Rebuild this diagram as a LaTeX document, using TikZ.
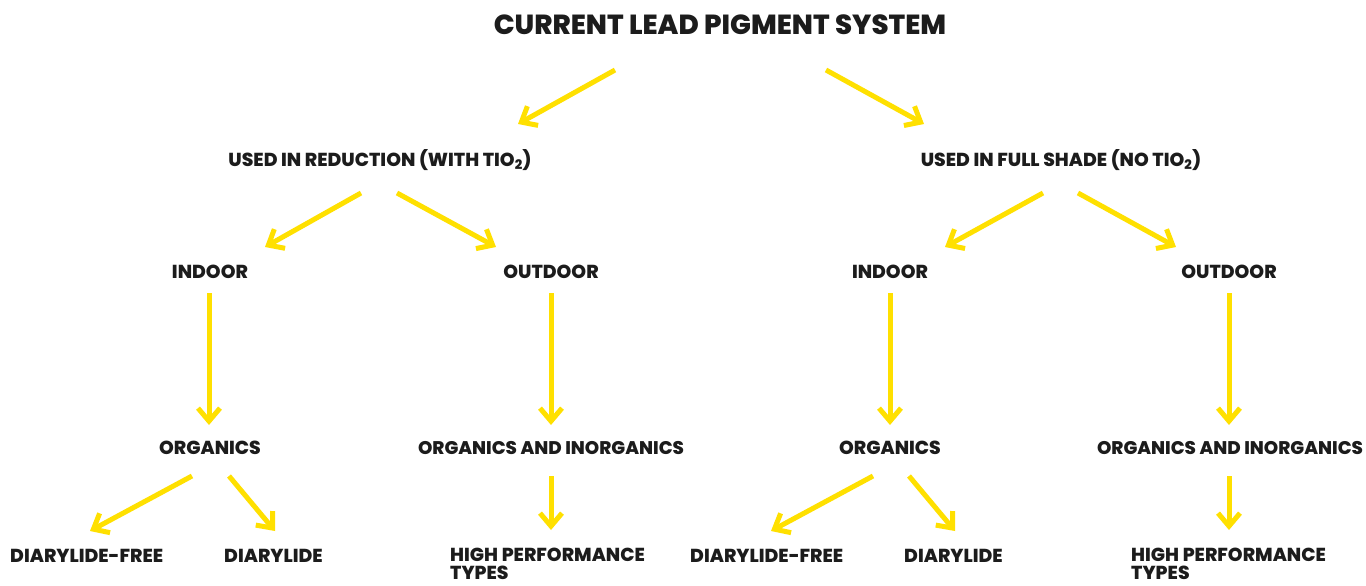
\documentclass[tikz,border=0pt]{standalone}
\usepackage{fontspec}
\setmainfont{Poppins}[BoldFont={Poppins ExtraBold}]
\usetikzlibrary{arrows.meta}
\definecolor{arrowyellow}{HTML}{FFE000}
\definecolor{inkdark}{HTML}{1C1C1C}
\begin{document}
\begin{tikzpicture}[x=1pt,y=-1pt,
  lbl/.style={font=\fontsize{18.8}{23}\selectfont\bfseries, text=inkdark, inner sep=0pt, anchor=base},
  ttl/.style={font=\fontsize{27.6}{31}\selectfont\bfseries, text=inkdark, inner sep=0pt, anchor=base},
  arr/.style={draw=arrowyellow, line width=5pt, -{Straight Barb[length=13pt,width=22pt]}}]
\useasboundingbox (0,0) rectangle (1366,586);
\fill[white] (0,0) rectangle (1366,586);
% texts
\node[ttl] (title) at (720,35) {CURRENT LEAD PIGMENT SYSTEM};
\node[lbl] (red) at (380,166) {USED IN REDUCTION (WITH TIO\textsubscript{2})};
\node[lbl] (full) at (1061,166) {USED IN FULL SHADE (NO TIO\textsubscript{2})};
\node[lbl] (inL) at (210,278) {INDOOR};
\node[lbl] (outL) at (551,278) {OUTDOOR};
\node[lbl] (inR) at (890,278) {INDOOR};
\node[lbl] (outR) at (1229,278) {OUTDOOR};
\node[lbl] (orgL) at (210,454) {ORGANICS};
\node[lbl, font=\fontsize{18.3}{23}\selectfont\bfseries] (oiL) at (551,454) {ORGANICS AND INORGANICS};
\node[lbl] (orgR) at (890,454) {ORGANICS};
\node[lbl, font=\fontsize{18.3}{23}\selectfont\bfseries] (oiR) at (1230,454) {ORGANICS AND INORGANICS};
\node[lbl, anchor=base west] (dfL) at (10,562) {DIARYLIDE-FREE};
\node[lbl, anchor=base west] (dL) at (224,562) {DIARYLIDE};
\node[lbl, anchor=base west] (hpL) at (450,561) {HIGH PERFORMANCE};
\node[lbl, anchor=base west] (tyL) at (450,579.5) {TYPES};
\node[lbl, anchor=base west] (dfR) at (690,562) {DIARYLIDE-FREE};
\node[lbl, anchor=base west] (dR) at (904,562) {DIARYLIDE};
\node[lbl, anchor=base west] (hpR) at (1131,561) {HIGH PERFORMANCE};
\node[lbl, anchor=base west] (tyR) at (1131,579.5) {TYPES};
% connector end points
\coordinate (t1s) at (615,70);  \coordinate (t1e) at (518,124);
\coordinate (t2s) at (826,70);  \coordinate (t2e) at (924,124);
\coordinate (r1s) at (361,193); \coordinate (r1e) at (265,247);
\coordinate (r2s) at (397,193); \coordinate (r2e) at (496,247);
\coordinate (f1s) at (1043,193); \coordinate (f1e) at (945,247);
\coordinate (f2s) at (1078,193); \coordinate (f2e) at (1176,247);
\coordinate (v1s) at (209,293); \coordinate (v1e) at (209,425);
\coordinate (v2s) at (551,293); \coordinate (v2e) at (551,425);
\coordinate (v3s) at (890,293); \coordinate (v3e) at (890,425);
\coordinate (v4s) at (1229,293); \coordinate (v4e) at (1229,425);
\coordinate (o1s) at (192,476); \coordinate (o1e) at (90,531);
\coordinate (o2s) at (229,476); \coordinate (o2e) at (275,531);
\coordinate (o3s) at (551,476); \coordinate (o3e) at (551,530);
\coordinate (o4s) at (873,476); \coordinate (o4e) at (771,531);
\coordinate (o5s) at (909,476); \coordinate (o5e) at (955,531);
\coordinate (o6s) at (1229,476); \coordinate (o6e) at (1229,530);
% connectors
\foreach \a in {t1,t2,r1,r2,f1,f2,v1,v2,v3,v4,o1,o2,o3,o4,o5,o6}
  \draw[arr] (\a s) -- (\a e);
\end{tikzpicture}
\end{document}
